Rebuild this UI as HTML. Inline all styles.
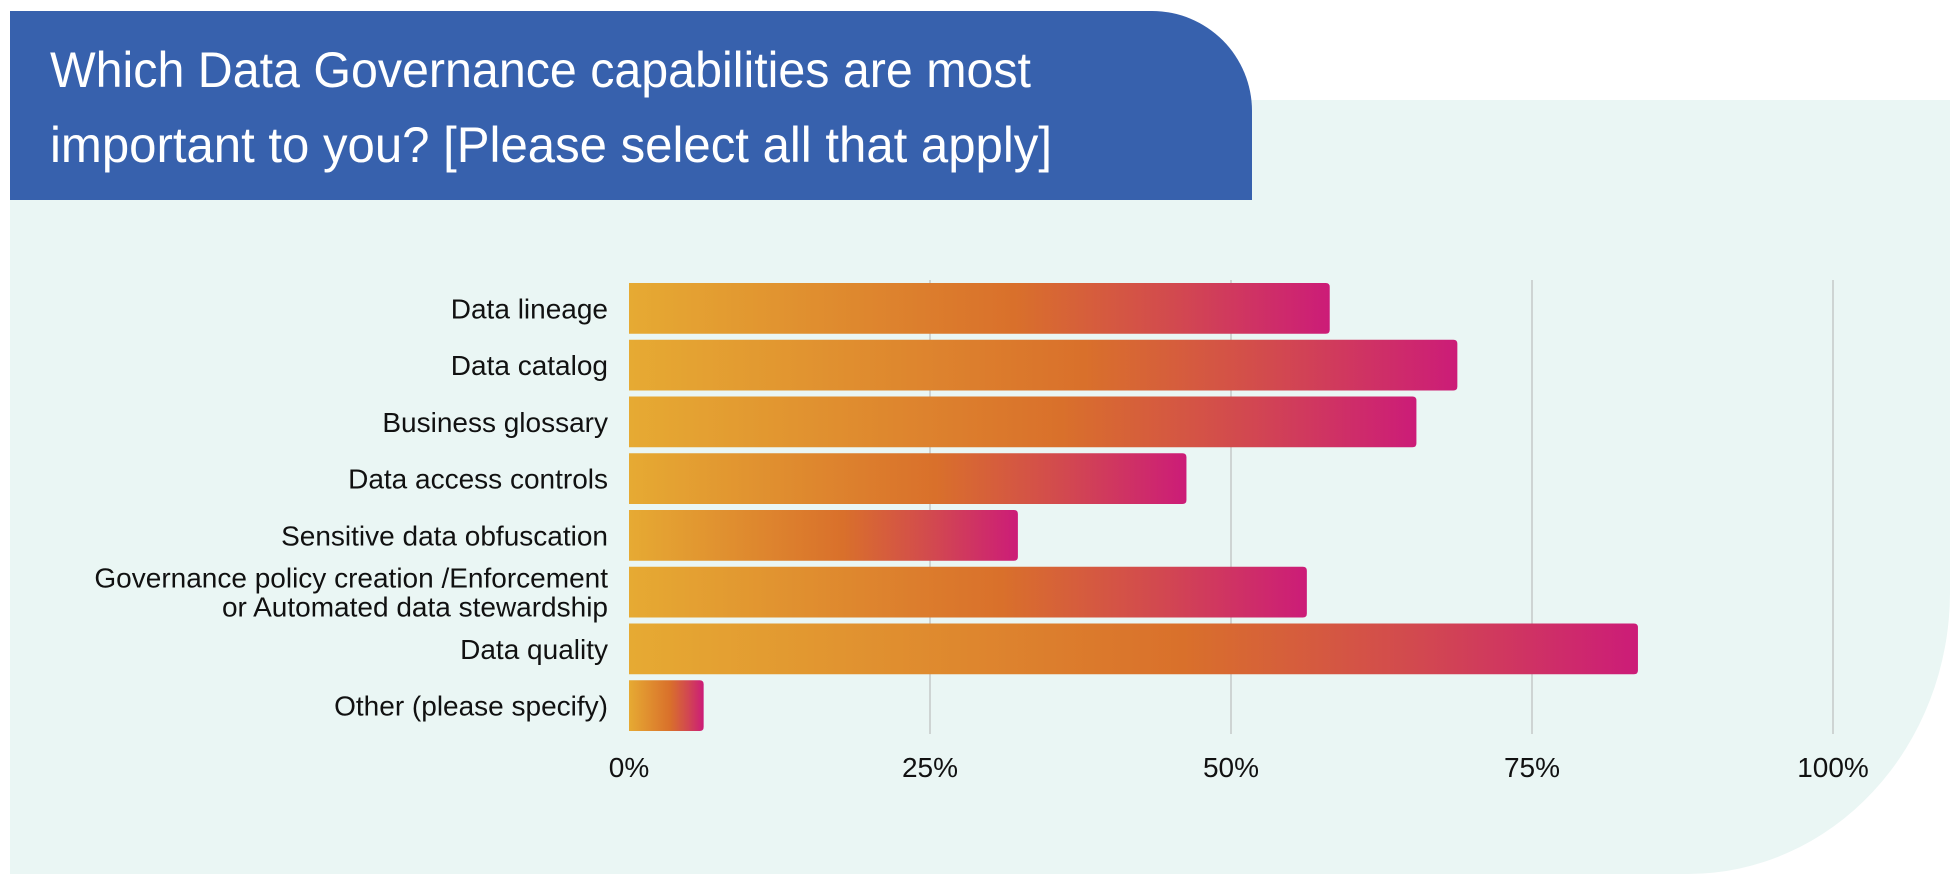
<!DOCTYPE html>
<html><head><meta charset="utf-8"><style>
html,body{margin:0;padding:0;background:#fff;}
svg{display:block;font-family:"Liberation Sans",sans-serif;}
</style></head><body>
<svg id="chart" width="1960" height="888" viewBox="0 0 1960 888" xmlns="http://www.w3.org/2000/svg">
<defs>
<linearGradient id="barGrad" x1="0" y1="0" x2="1" y2="0">
<stop offset="0" stop-color="#e6aa33"/>
<stop offset="0.55" stop-color="#d9702b"/>
<stop offset="0.78" stop-color="#d2494f"/>
<stop offset="1" stop-color="#cc1c78"/>
</linearGradient>
</defs>
<path d="M10 100 H1950 V592 A262 282 0 0 1 1688 874 H10 Z" fill="#eaf6f4"/>
<path d="M10 11 H1152 A100 100 0 0 1 1252 111 V200 H10 Z" fill="#3761ad"/>
<text x="50" y="87" font-size="50" fill="#fff" textLength="981" lengthAdjust="spacingAndGlyphs">Which Data Governance capabilities are most</text>
<text x="50" y="162" font-size="50" fill="#fff" textLength="1002" lengthAdjust="spacingAndGlyphs">important to you? [Please select all that apply]</text>
<g id="grid"></g>
<g id="bars"></g>
<g id="labels"></g>
<g id="ticks"></g>
</svg>
<script>
const categories = ["Data lineage","Data catalog","Business glossary","Data access controls","Sensitive data obfuscation","Governance policy creation /Enforcement|or Automated data stewardship","Data quality","Other (please specify)"];
const values = [58.2, 68.8, 65.4, 46.3, 32.3, 56.3, 83.8, 6.2];
const tickValues = [0, 25, 50, 75, 100];
const tickLabels = ["0%","25%","50%","75%","100%"];

const NS = "http://www.w3.org/2000/svg";
const x0 = 629, x1 = 1833, plotTop = 280, plotBottom = 734;
const xScale = v => x0 + (v / 100) * (x1 - x0);
const band = (plotBottom - plotTop) / categories.length;
const yScale = i => plotTop + i * band;
function mk(tag, attrs, parent) {
  const e = document.createElementNS(NS, tag);
  for (const k in attrs) e.setAttribute(k, attrs[k]);
  parent.appendChild(e);
  return e;
}
const grid = document.getElementById('grid');
const ticks = document.getElementById('ticks');
tickValues.forEach((t, i) => {
  if (t > 0) {
    const l = mk('line', {x1: xScale(t), x2: xScale(t), y1: plotTop, y2: plotBottom, stroke: '#c4c8c8', 'stroke-width': 1.5}, grid);
    
    
  }
  const tx = mk('text', {x: xScale(t), y: 777, 'font-size': 28, 'text-anchor': 'middle', fill: '#111'}, ticks);
  tx.textContent = tickLabels[i];
  
  
});
const bars = document.getElementById('bars');
const labels = document.getElementById('labels');
categories.forEach((c, i) => {
  const y = yScale(i) + 3, h = band - 6;
  const w = xScale(values[i]) - x0;
  const r = mk('path', {d: `M${x0} ${y} H${x0 + w - 4} Q${x0 + w} ${y} ${x0 + w} ${y + 4} V${y + h - 4} Q${x0 + w} ${y + h} ${x0 + w - 4} ${y + h} H${x0} Z`, fill: 'url(#barGrad)'}, bars);
  
  
  const parts = c.split('|');
  const cy = yScale(i) + band / 2;
  parts.forEach((p, j) => {
    const ty = cy + 10 + (j - (parts.length - 1) / 2) * 29;
    const t = mk('text', {x: 608, y: ty, 'font-size': 28, 'text-anchor': 'end', fill: '#111'}, labels);
    t.textContent = p;
    
    
  });
});
</script>
</body></html>
